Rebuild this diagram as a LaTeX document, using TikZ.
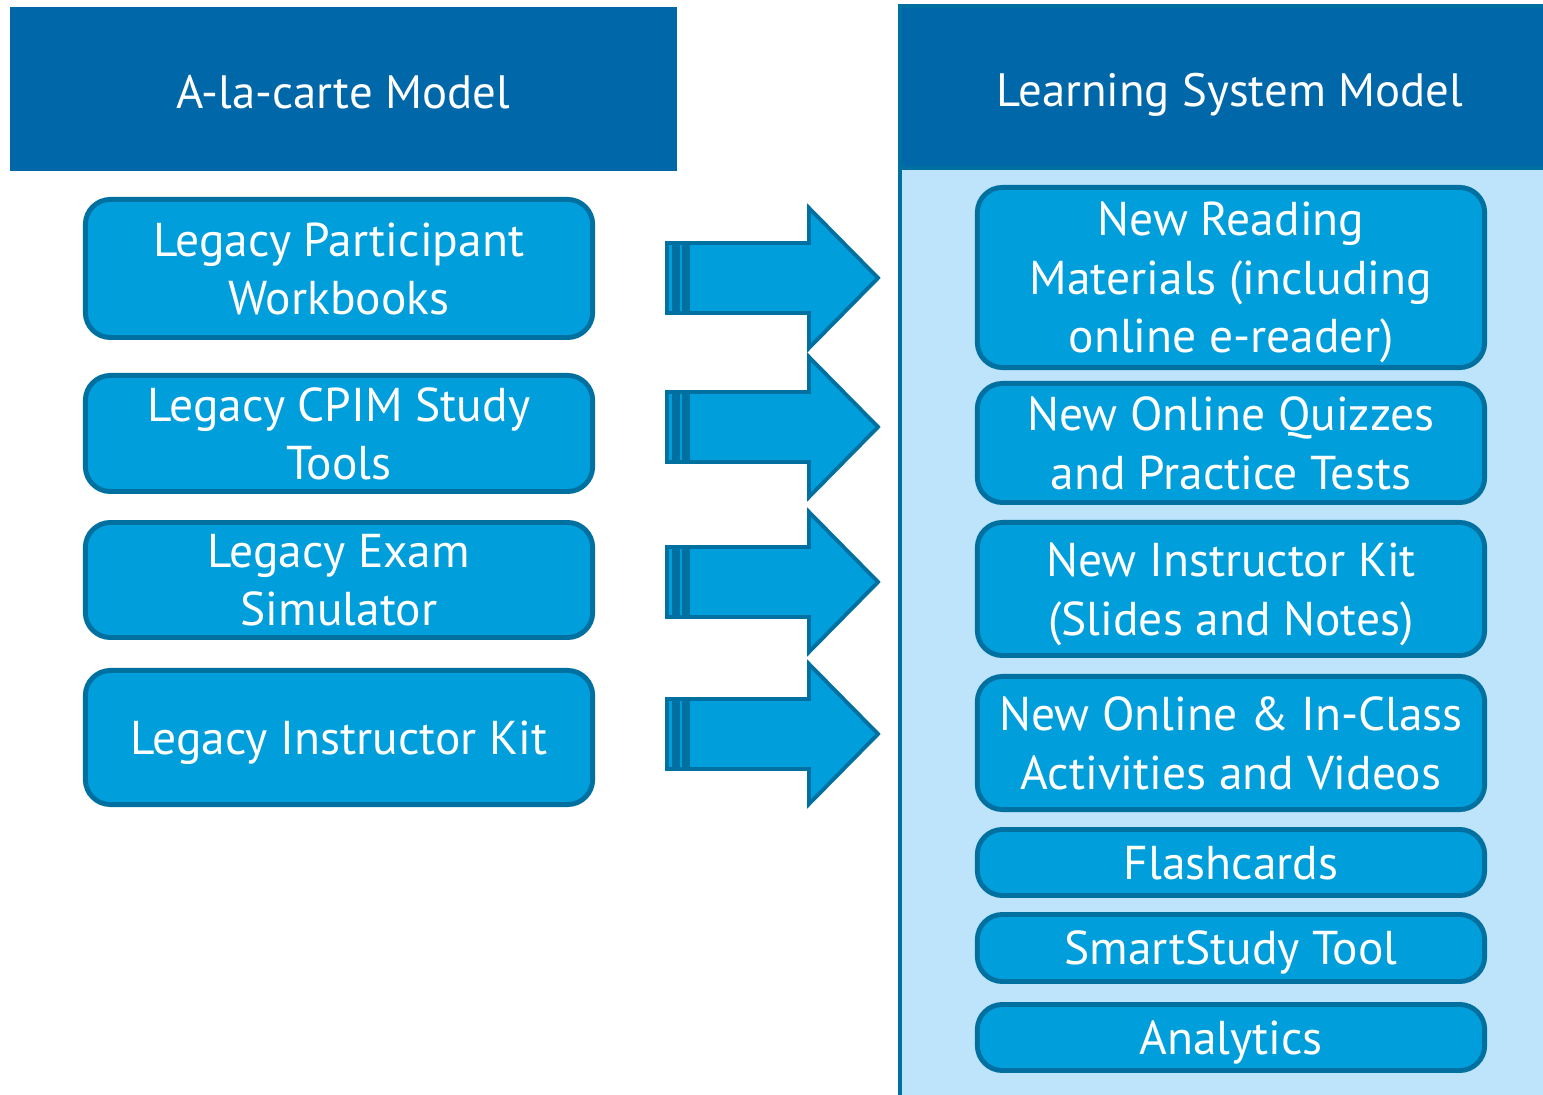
\documentclass[tikz,border=0pt]{standalone}
\usepackage{fontspec}
\setmainfont{PT Sans}
\usepackage{tikz}
\definecolor{headblue}{RGB}{0,103,169}
\definecolor{edgeblue}{RGB}{0,112,160}
\definecolor{boxblue}{RGB}{0,158,219}
\definecolor{paleblue}{RGB}{189,228,250}
\tikzset{
  item/.style={draw=edgeblue, line width=1.4pt, fill=boxblue, rounded corners=0.25cm,
    text=white, align=center, minimum width=5.07cm, inner sep=0pt, text depth=0pt,
    font=\fontsize{13.5}{16.6}\selectfont},
  head/.style={text=white, text depth=0pt, font=\fontsize{13.3}{16}\selectfont},
  blockarrow/.style={draw=edgeblue, line width=1.1pt, fill=boxblue}
}

\begin{document}
\begin{tikzpicture}[x=0.01cm, y=-0.01cm]
    \useasboundingbox (0,0) rectangle (1543,1095);
    % left header
    \fill[headblue] (10,7) rectangle (677,171);
    \node[head] (hl) at (343, 92) {A-la-carte Model};
    % right panel
    \draw[edgeblue, line width=1.1pt, fill=paleblue] (900,168) rectangle (1560,1110);
    \draw[edgeblue, line width=1.1pt, fill=headblue] (900,6) rectangle (1560,168);
    \node[head] (hr) at (1230, 90) {Learning System Model};
    % old items
    \node[item, minimum height=1.38cm] (a) at (339, 268.5) {Legacy Participant\\Workbooks};
    \node[item, minimum height=1.16cm] (b) at (339, 433.5) {Legacy CPIM Study\\Tools};
    \node[item, minimum height=1.15cm] (c) at (339, 580) {Legacy Exam\\Simulator};
    \node[item, minimum height=1.34cm] (d) at (339, 737.5) {Legacy Instructor Kit};
    % new items
    \node[item, minimum height=1.80cm] (e) at (1231, 277.5) {New Reading\\Materials (including\\online e-reader)};
    \node[item, minimum height=1.19cm] (f) at (1231, 443) {New Online Quizzes\\and Practice Tests};
    \node[item, minimum height=1.33cm] (g) at (1231, 589) {New Instructor Kit\\(Slides and Notes)};
    \node[item, minimum height=1.33cm] (h) at (1231, 743) {New Online \& In-Class\\Activities and Videos};
    \node[item, minimum height=0.66cm] (i) at (1231, 862.5) {Flashcards};
    \node[item, minimum height=0.67cm] (j) at (1231, 948) {SmartStudy Tool};
    \node[item, minimum height=0.66cm] (k) at (1231, 1037.5) {Analytics};
    % striped arrows
    \foreach \y in {278, 427, 582, 734} {
      \draw[blockarrow] (667,\y-35) rectangle (674,\y+35);
      \draw[blockarrow] (678,\y-35) rectangle (684,\y+35);
      \draw[blockarrow] (688,\y-35) -- (809,\y-35) -- (809,\y-70) -- (878,\y)
        -- (809,\y+70) -- (809,\y+35) -- (688,\y+35) -- cycle;
    }
\end{tikzpicture}
\end{document}
